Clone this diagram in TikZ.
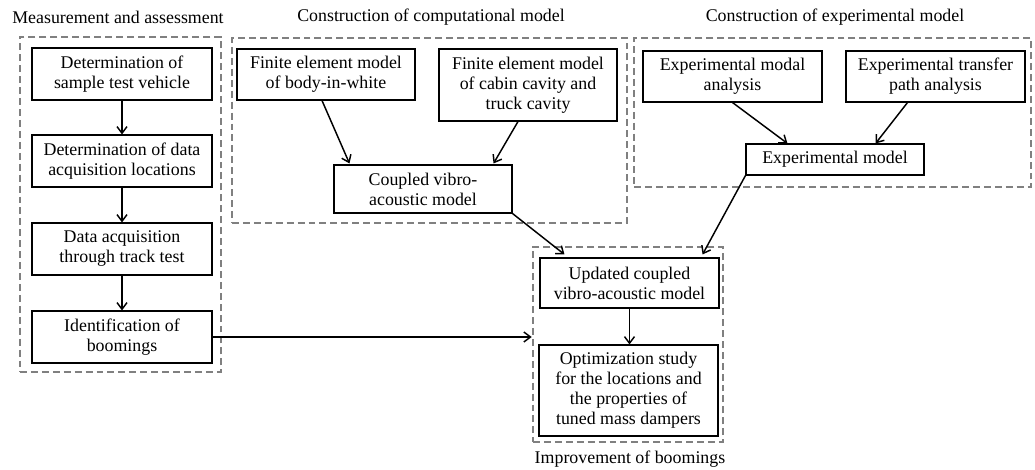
\documentclass[tikz,border=0pt]{standalone}
\usepackage{fontspec}
\setmainfont{Liberation Serif}
\usetikzlibrary{arrows.meta,calc}
\tikzset{
  txt/.style={font=\fontsize{13.4pt}{15pt}\selectfont, align=center, inner sep=0pt},
  bx/.style 2 args={txt, draw=black, line width=0.8pt, minimum width=#1*0.75pt, minimum height=#2*0.75pt},
  grp/.style 2 args={draw=black!50, line width=1.9pt, dash pattern=on 5.2pt off 3pt, minimum width=#1*0.75pt, minimum height=#2*0.75pt, inner sep=0pt},
  arr/.style={line width=1.1pt, -{Straight Barb[length=5pt,width=7.5pt,line width=1.1pt]}},
}
\begin{document}
\begin{tikzpicture}[x=0.75pt,y=-0.75pt]
\useasboundingbox (0,0) rectangle (1035,470);
% group frames
\node[grp={201}{335}] (g1) at (120.5,204.5) {};
\node[grp={395}{185}] (g2) at (429.5,130.5) {};
\node[grp={397}{149}] (g3) at (832.5,112.5) {};
\node[grp={190}{195}] (g4) at (628,344.5) {};
% titles
\node[txt] (t1) at (118,17) {Measurement and assessment};
\node[txt] (t2) at (431,17) {Construction of computational model};
\node[txt] (t3) at (835,17) {Construction of experimental model};
\node[txt] (t4) at (630,459) {Improvement of boomings};
% group 1
\node[bx={180}{52}] (b1) at (122,74) {Determination of\\sample test vehicle};
\node[bx={180}{52}] (b2) at (122,161) {Determination of data\\acquisition locations};
\node[bx={180}{52}] (b3) at (122,249) {Data acquisition\\through track test};
\node[bx={180}{52}] (b4) at (122,337) {Identification of\\boomings};
% group 2
\node[bx={178}{51}] (biw) at (326,74.5) {Finite element model\\of body-in-white};
\node[bx={178}{72}] (cab) at (528,85) {Finite element model\\of cabin cavity and\\truck cavity};
\node[bx={178}{48}] (cpl) at (423,189) {Coupled vibro-\\acoustic model};
% group 3
\node[bx={179}{51}] (ema) at (732.5,76.5) {Experimental modal\\analysis};
\node[bx={179}{51}] (etpa) at (935.5,76.5) {Experimental transfer\\path analysis};
\node[bx={178}{31}] (exm) at (835,159.5) {Experimental model};
% group 4
\node[bx={179}{50}] (upd) at (629.5,283) {Updated coupled\\vibro-acoustic model};
\node[bx={179}{91}] (opt) at (628.5,390.5) {Optimization study\\for the locations and\\the properties of\\tuned mass dampers};
% arrows
\draw[arr] (b1.south) -- (b2.north);
\draw[arr] (b2.south) -- (b3.north);
\draw[arr] (b3.south) -- (b4.north);
\draw[arr] ($(biw.south)+(-4,0)$) -- ($(cpl.north west)+(16,-1)$);
\draw[arr] ($(cab.south)+(-10,0)$) -- ($(cpl.north east)+(-19,-1)$);
\draw[arr] (ema.south) -- ($(exm.north west)+(42,0)$);
\draw[arr] ($(etpa.south)+(-28,0)$) -- ($(exm.north east)+(-49,0)$);
\draw[arr] (exm.south west) -- ($(upd.north east)+(-17,-3)$);
\draw[arr] (cpl.south east) -- ($(upd.north west)+(25,-3)$);
\draw[arr] (b4.east) -- (b4.east -| g4.west);
\draw[arr] (upd.south) -- (upd.south |- opt.north);
\end{tikzpicture}
\end{document}
